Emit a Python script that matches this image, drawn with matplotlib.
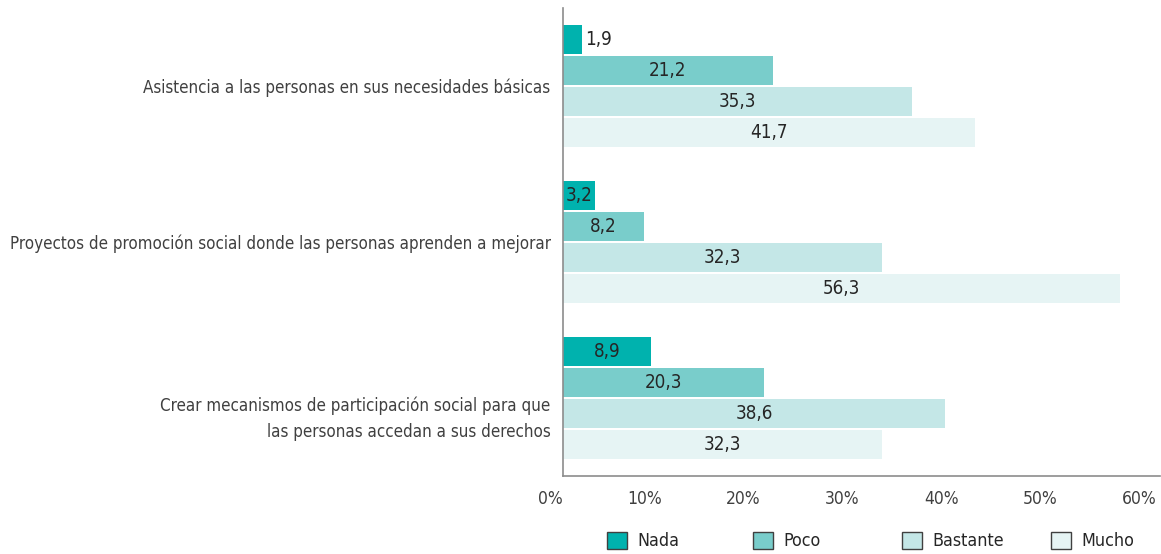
import matplotlib
matplotlib.use("Agg")
import matplotlib.pyplot as plt
import numpy as np
from matplotlib.transforms import ScaledTranslation
from matplotlib.patches import Patch

plt.rcParams['font.family'] = ['DejaVu Sans']
plt.rcParams['font.stretch'] = 'condensed'

categories = [
    "Asistencia a las personas en sus necesidades básicas",
    "Proyectos de promoción social donde las personas aprenden a mejorar",
    "Crear mecanismos de participación social para que\nlas personas accedan a sus derechos",
]
series = ["Nada", "Poco", "Bastante", "Mucho"]
nada = [1.9, 3.2, 8.9]
poco = [21.2, 8.2, 20.3]
bastante = [35.3, 32.3, 38.6]
mucho = [41.7, 56.3, 32.3]
values = [nada, poco, bastante, mucho]
colors = ["#00B2AE", "#79CDCB", "#C4E7E7", "#E6F4F4"]
xticks = [0, 10, 20, 30, 40, 50, 60]
xticklabels = ["0%", "10%", "20%", "30%", "40%", "50%", "60%"]

fig = plt.figure(figsize=(11.61, 5.54), dpi=100)
ax = fig.add_axes([563/1161, 1-476/554, (1160-563)/1161, (476-8)/554])

y = np.arange(len(categories))
pitch = 0.199
height = 0.186
for i, (vals, col) in enumerate(zip(values, colors)):
    pos = y + (i - 1.5) * pitch
    bars = ax.barh(pos, vals, height=height, color=col, edgecolor='none')
    for b, v in zip(bars, vals):
        txt = f"{v:.1f}".replace(".", ",")
        cy = b.get_y() + b.get_height() / 2
        if v < 3:
            ax.text(v + 0.3, cy, txt, ha='left', va='center', fontsize=13.5, color='#262626')
        else:
            ax.text(v / 2, cy, txt, ha='center', va='center', fontsize=13.5, color='#262626')

ax.set_xlim(0, (1160-563)/9.89)
ax.set_ylim(len(categories) - 0.5, -0.5)
ax.set_yticks(y)
ax.set_yticklabels(categories, fontsize=12.2, color='#404040', linespacing=1.55)
ax.set_xticks(xticks)
ax.set_xticklabels(xticklabels, fontsize=12.5, color='#404040')
for lab in ax.get_xticklabels():
    lab.set_ha('right')
ax.tick_params(axis='x', length=0, pad=10)
ax.tick_params(axis='y', length=0, pad=9)
lab3 = ax.get_yticklabels()[2]
lab3.set_transform(lab3.get_transform() + ScaledTranslation(0, -0.15, fig.dpi_scale_trans))

for s in ['top', 'right']:
    ax.spines[s].set_visible(False)
for s in ['left', 'bottom']:
    ax.spines[s].set_color('#8C8C8C')
    ax.spines[s].set_linewidth(1.2)

legend_x = [607, 753, 902, 1051]
for name, col, lx in zip(series, colors, legend_x):
    h = Patch(facecolor=col, edgecolor='#404040', linewidth=1.0)
    fig.legend([h], [name], loc='center left', bbox_to_anchor=(lx/1161, 1-541/554),
               frameon=False, fontsize=12.8, handlelength=1.15, handleheight=1.15,
               handletextpad=0.55, borderpad=0, borderaxespad=0, labelcolor='#262626')

fig.savefig("out.png", dpi=100)
